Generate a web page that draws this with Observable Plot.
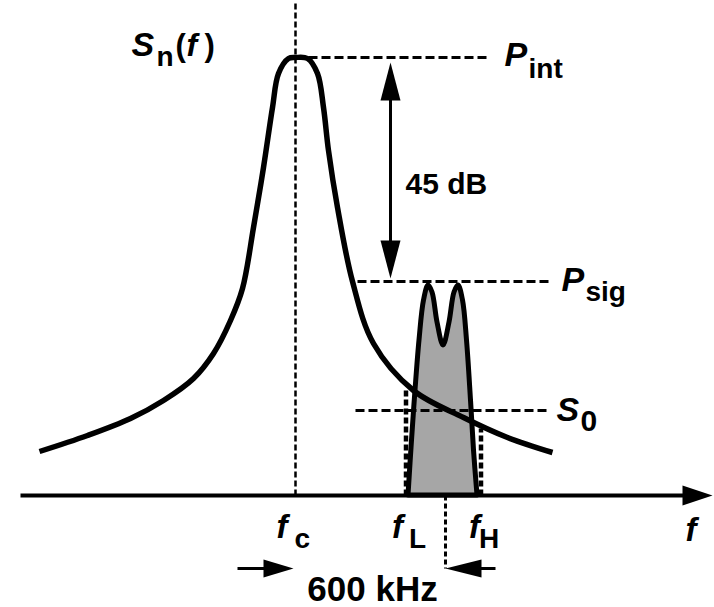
<!DOCTYPE html>
<html>
<head>
<meta charset="utf-8">
<script src="https://cdn.jsdelivr.net/npm/d3@7"></script>
<script src="https://cdn.jsdelivr.net/npm/@observablehq/plot@0.6"></script>
<style>
  html, body { margin: 0; padding: 0; background: #fff; }
  #chart svg { display: block; }
</style>
</head>
<body>
<div id="chart"></div>
<script>
// ---- Data (frequency in kHz relative to fc, level in dB above the axis) ----
const noiseFreq  = [-1024, -832, -660, -528, -408, -328, -260, -212, -168, -128, -92, -68, -28, 0, 48, 88, 112, 132, 168, 228, 312, 472, 672, 848, 1028];
const noiseLevel = [8.8, 12, 15.4, 19, 23.4, 28.4, 35, 41.4, 53.6, 65.6, 77.6, 84.4, 87.4, 87.6, 87.4, 84.4, 77.6, 69, 57.6, 42.8, 30.4, 21, 15.6, 11.6, 8.6];

const sigFreq  = [452, 466, 480, 496, 514, 532, 548, 568, 592, 616, 636, 652, 670, 686, 702, 714, 728];
const sigLevel = [0, 11, 21, 31, 39, 42, 40.6, 34.6, 30, 34.6, 40.6, 42, 39, 31, 19, 9, 0];

const fc = 0, fL = 442, fH = 742, offset = 600;      // kHz
const Pint = 87.6, Psig = 42.8, S0 = 17;             // dB
const labelText = {sn: "S", snSub: "n", pint: "P", pintSub: "int", psig: "P", psigSub: "sig",
                   s0: "S", s0Sub: "0", f: "f", c: "c", L: "L", H: "H", gap: "45 dB", off: "600 kHz"};

// ---- extents of guides (kHz / dB) ----
const xMin = -1180, xMax = 1676, yMin = -22.4, yMax = 99;
const axisStart = -1100, axisTip = 1668;
const pintLineEnd = 772, guideStart = 248, s0Start = 240, guideEnd = 1012;
const arrowX = 380, arrowTop = 86.6, arrowBottom = 43.4;
const offLevel = -14.6, leftArrowStart = -232, rightArrowStart = 800;
const fLTop = 21, fHTop = 13.4;

const noise = noiseFreq.map((f, i) => ({f, v: noiseLevel[i]}));
const signal = sigFreq.map((f, i) => ({f, v: sigLevel[i]}));

// custom filled arrowhead symbols (tip at the anchor point)
function head(dir, len, half) {
  return {draw(ctx) {
    if (dir === "up")    { ctx.moveTo(0, 0); ctx.lineTo(-half, len); ctx.lineTo(half, len); }
    if (dir === "down")  { ctx.moveTo(0, 0); ctx.lineTo(-half, -len); ctx.lineTo(half, -len); }
    if (dir === "right") { ctx.moveTo(0, 0); ctx.lineTo(-len, -half); ctx.lineTo(-len, half); }
    if (dir === "left")  { ctx.moveTo(0, 0); ctx.lineTo(len, -half); ctx.lineTo(len, half); }
    ctx.closePath();
  }};
}

const FONT = "'Liberation Sans', Arial, Helvetica, sans-serif";
function label(text, x, y, dx, dy, size, italic, anchor = "start") {
  return Plot.text([{x, y, text}], {
    x: "x", y: "y", text: "text", dx, dy,
    textAnchor: anchor, lineAnchor: "bottom",
    fontFamily: FONT, fontWeight: "bold", fontSize: size,
    fontStyle: italic ? "italic" : "normal", fill: "black"
  });
}

const dashes = [
  {x1: guideStart, y1: Psig, x2: guideEnd, y2: Psig},
  {x1: s0Start, y1: S0, x2: guideEnd, y2: S0},
  {x1: fc, y1: Pint, x2: pintLineEnd, y2: Pint}
];

const chart = Plot.plot({
  width: 714, height: 607,
  margin: 0,
  style: {background: "white", overflow: "visible"},
  x: {domain: [xMin, xMax], axis: null},
  y: {domain: [yMin, yMax], axis: null},
  marks: [
    // fL / fH dotted markers
    Plot.link([{x: fL, y1: 0, y2: fLTop}, {x: fH, y1: 0, y2: fHTop}],
      {x1: "x", x2: "x", y1: "y1", y2: "y2", stroke: "black", strokeWidth: 4.5, strokeDasharray: "6,3"}),
    // signal band
    Plot.areaY(signal, {x: "f", y: "v", curve: "catmull-rom", fill: "#a6a6a6", stroke: "black", strokeWidth: 5, strokeLinejoin: "round"}),
    // fc vertical dashed
    Plot.link([{x: fc, y1: 0, y2: yMax}], {x1: "x", x2: "x", y1: "y1", y2: "y2", stroke: "black", strokeWidth: 2.5, strokeDasharray: "6,3"}),
    // horizontal dashed levels
    Plot.link(dashes, {x1: "x1", x2: "x2", y1: "y1", y2: "y2", stroke: "black", strokeWidth: 3, strokeDasharray: "9,4"}),
    // noise / interferer spectrum
    Plot.line(noise, {x: "f", y: "v", curve: "catmull-rom", stroke: "black", strokeWidth: 5.5, strokeLinecap: "butt"}),
    // frequency axis
    Plot.link([{x1: axisStart, x2: axisTip - 100, y: 0}], {x1: "x1", x2: "x2", y1: "y", y2: "y", stroke: "black", strokeWidth: 4}),
    Plot.dot([{x: axisTip, y: 0}], {x: "x", y: "y", symbol: head("right", 30, 10), fill: "black", stroke: "none"}),
    // 45 dB double arrow
    Plot.link([{x: arrowX, y1: arrowTop - 4, y2: arrowBottom + 4}], {x1: "x", x2: "x", y1: "y1", y2: "y2", stroke: "black", strokeWidth: 3}),
    Plot.dot([{x: arrowX, y: arrowTop}], {x: "x", y: "y", symbol: head("up", 38, 10), fill: "black", stroke: "none"}),
    Plot.dot([{x: arrowX, y: arrowBottom}], {x: "x", y: "y", symbol: head("down", 38, 10), fill: "black", stroke: "none"}),
    // 600 kHz offset marker
    Plot.link([{x: offset, y1: 0, y2: offLevel}], {x1: "x", x2: "x", y1: "y1", y2: "y2", stroke: "black", strokeWidth: 3, strokeDasharray: "5,3"}),
    Plot.link([{x1: leftArrowStart, x2: fc - 40, y: offLevel}, {x1: offset + 40, x2: rightArrowStart, y: offLevel}],
      {x1: "x1", x2: "x2", y1: "y", y2: "y", stroke: "black", strokeWidth: 3}),
    Plot.dot([{x: fc - 8, y: offLevel}], {x: "x", y: "y", symbol: head("right", 30, 9), fill: "black", stroke: "none"}),
    Plot.dot([{x: offset, y: offLevel}], {x: "x", y: "y", symbol: head("left", 36, 9), fill: "black", stroke: "none"}),

    // ---- labels ----
    label(labelText.sn, fc, Pint, -164, -2, 34, true),
    label(labelText.snSub, fc, Pint, -139, 8, 28, false),
    label("(", fc, Pint, -120, -2, 31, false),
    label(labelText.f, fc, Pint, -109, -2, 32, true),
    label(")", fc, Pint, -91, -2, 31, false),

    label(labelText.pint, pintLineEnd, Pint, 16, 8, 34, true),
    label(labelText.pintSub, pintLineEnd, Pint, 40, 20, 28, false),
    label(labelText.psig, guideEnd, Psig, 13, 9, 34, true),
    label(labelText.psigSub, guideEnd, Psig, 37, 19, 28, false),
    label(labelText.s0, guideEnd, S0, 8, 10, 34, true),
    label(labelText.s0Sub, guideEnd, S0, 32, 20, 30, false),

    label(labelText.gap, arrowX, (arrowTop + arrowBottom) / 2, 15, 23, 30, false),

    label(labelText.f, fc, 0, -19, 42, 33, true),
    label(labelText.c, fc, 0, -1, 52, 28, false),
    label(labelText.f, fL, 0, -14, 42, 33, true),
    label(labelText.L, fL, 0, 3, 52, 28, false),
    label(labelText.f, fH, 0, -12, 42, 33, true),
    label(labelText.H, fH, 0, -2, 52, 28, false),
    label(labelText.f, axisTip, 0, -27, 45, 33, true),

    label(labelText.off, offset / 2, offLevel, 2, 32, 35, false, "middle")
  ]
});

document.getElementById("chart").appendChild(chart);
</script>
</body>
</html>
